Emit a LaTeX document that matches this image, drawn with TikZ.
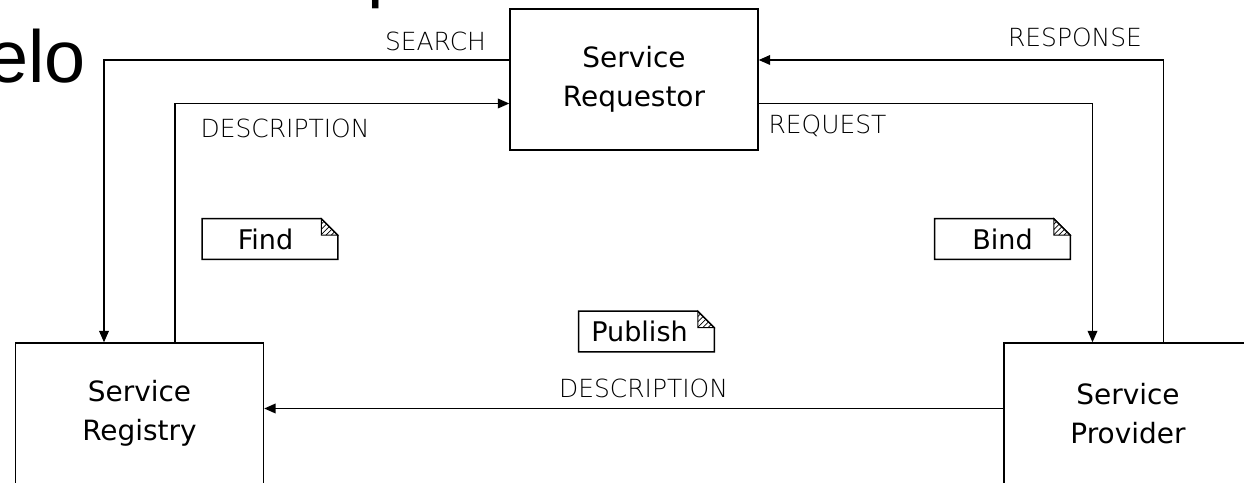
\documentclass[tikz,border=0pt]{standalone}
\usepackage{fontspec}
\setmainfont{DejaVu Sans}
\newfontfamily\titlefont{Liberation Sans}
\newfontfamily\thinfont{DejaVu Sans ExtraLight}
\usepackage{tikz}
\usetikzlibrary{arrows.meta,patterns}

\tikzset{
  service/.style={draw, line width=0.8pt, minimum width=4.96cm, minimum height=2.82cm,
    align=center, font=\fontsize{15.9}{22.3}\selectfont},
  msg/.style={inner sep=0pt, font=\thinfont\fontsize{14.2}{17}\selectfont},
  doc/.style={minimum width=2.7cm, minimum height=0.8cm, inner sep=0pt,
    font=\fontsize{15.4}{18}\selectfont},
  flow/.style={-{Triangle[length=6.5pt,width=5.5pt]}, line width=0.8pt},
  title/.style={anchor=base west, inner sep=0pt, font=\titlefont\fontsize{42}{50}\selectfont},
}

\begin{document}
\begin{tikzpicture}
\useasboundingbox (0,0) rectangle (24.88,9.64);

% slide title, cut off by the frame
\node[title] (title) at (-0.26,7.98) {elo};
\node[title] (titlep) at (7.34,9.77) {p};

% the three roles
\node[service] (req) at (12.68,8.05) {Service\\Requestor};
\node[service] (reg) at (2.79,1.37) {Service\\Registry};
\node[service] (prov) at (22.56,1.37) {Service\\Provider};

% messages
\draw[flow] ([yshift=0.39cm]req.west) -| ([xshift=-0.71cm]reg.north);
\draw[flow] ([xshift=0.71cm]reg.north) |- ([yshift=-0.48cm]req.west);
\draw[flow] ([yshift=-0.48cm]req.east) -| ([xshift=-0.71cm]prov.north);
\draw[flow] ([xshift=0.71cm]prov.north) |- ([yshift=0.39cm]req.east);
\draw[flow] ([yshift=0.1cm]prov.west) -- ([yshift=0.1cm]reg.east);

\node[msg] (search) at (8.71,8.82) {SEARCH};
\node[msg] (descup) at (5.70,7.07) {DESCRIPTION};
\node[msg] (request) at (16.55,7.13) {REQUEST};
\node[msg] (response) at (21.5,8.9) {RESPONSE};
\node[msg] (desclow) at (12.87,1.88) {DESCRIPTION};

% operations, drawn as dog-eared sheets
\node[doc] (find) at (5.40,4.86) {Find\hspace*{0.18cm}};
\node[doc] (bind) at (20.05,4.86) {Bind};
\node[doc] (publish) at (12.93,3.01) {Publish\hspace*{0.28cm}};
\foreach \n in {find,bind,publish} {
  \draw[line width=0.8pt] (\n.south west) -- (\n.north west) -- ([xshift=-0.33cm]\n.north east)
    -- ([yshift=-0.33cm]\n.north east) -- (\n.south east) -- cycle;
  \draw[line width=0.6pt, pattern=north east lines] ([xshift=-0.33cm]\n.north east)
    -- ([xshift=-0.33cm,yshift=-0.33cm]\n.north east) -- ([yshift=-0.33cm]\n.north east) -- cycle;
}
\end{tikzpicture}
\end{document}
